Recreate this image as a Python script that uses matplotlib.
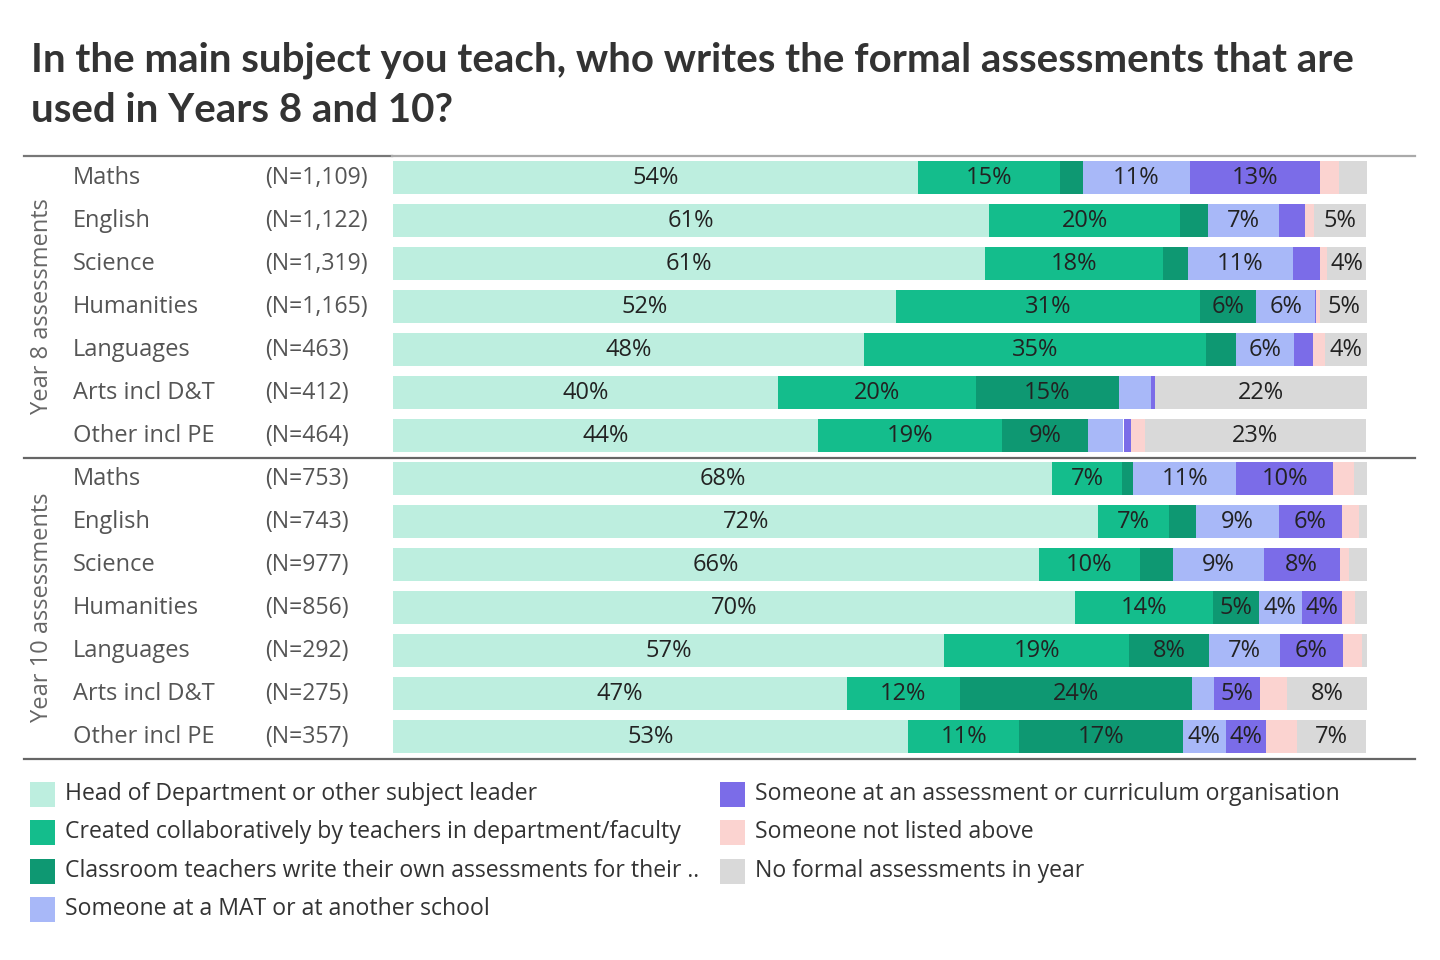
import matplotlib.pyplot as plt
from matplotlib import transforms
from matplotlib.patches import Rectangle
from matplotlib.lines import Line2D

subjects = ["Maths", "English", "Science", "Humanities", "Languages", "Arts incl D&T", "Other incl PE"]
n_y8 = ["(N=1,109)", "(N=1,122)", "(N=1,319)", "(N=1,165)", "(N=463)", "(N=412)", "(N=464)"]
n_y10 = ["(N=753)", "(N=743)", "(N=977)", "(N=856)", "(N=292)", "(N=275)", "(N=357)"]

categories = [
    "Head of Department or other subject leader",
    "Created collaboratively by teachers in department/faculty",
    "Classroom teachers write their own assessments for their ..",
    "Someone at a MAT or at another school",
    "Someone at an assessment or curriculum organisation",
    "Someone not listed above",
    "No formal assessments in year",
]
colors = ["#bdeedf", "#14bd8c", "#0e9872", "#a8b8f8", "#7b6ce8", "#fbd3d0", "#d9d9d9"]

# one list per category, Year 8 rows then Year 10 rows (same subject order)
head = [53.9, 61.2, 60.8, 51.6, 48.4, 39.5, 43.6,
        67.7, 72.4, 66.3, 70.0, 56.6, 46.6, 52.9]
collab = [14.6, 19.6, 18.3, 31.3, 35.1, 20.4, 18.9,
          7.1, 7.3, 10.4, 14.2, 19.0, 11.6, 11.4]
classroom = [2.3, 2.9, 2.5, 5.7, 3.1, 14.6, 8.9,
             1.2, 2.7, 3.4, 4.7, 8.2, 23.8, 16.8]
mat = [11.0, 7.3, 10.8, 6.1, 5.9, 3.3, 3.6,
       10.6, 8.6, 9.3, 4.4, 7.3, 2.3, 4.4]
org = [13.4, 2.6, 2.8, 0.1, 2.0, 0.4, 0.8,
       9.9, 6.4, 7.8, 4.1, 6.4, 4.7, 4.1]
not_listed = [1.9, 1.0, 0.7, 0.4, 1.2, 0.0, 1.4,
              2.2, 1.8, 1.0, 1.4, 2.0, 2.8, 3.2]
no_formal = [2.9, 5.3, 4.0, 4.9, 4.3, 21.8, 22.7,
             1.4, 0.8, 1.8, 1.2, 0.5, 8.2, 7.1]

series = [head, collab, classroom, mat, org, not_listed, no_formal]

W, H = 1440, 960
plt.rcParams['font.family'] = ['Open Sans', 'DejaVu Sans']
fig = plt.figure(figsize=(W / 100, H / 100), dpi=100)

def fx(px): return px / W
def fy(py): return 1 - py / H

# bar axes: pixel x 393..1367, y 156..758
ax = fig.add_axes([fx(393), fy(758), fx(1367) - fx(393), (758 - 156) / H])
nrows = len(head)
ax.set_xlim(0, 100)
ax.set_ylim(nrows - 0.5, -0.5)
ax.axis('off')

rows = list(range(nrows))
left = [0.0] * nrows
for vals, col in zip(series, colors):
    ax.barh(rows, vals, left=left, height=0.77, color=col, linewidth=0)
    for r, (v, l) in enumerate(zip(vals, left)):
        if v >= 3.95:
            ax.text(l + v / 2, r, f"{v:.0f}%", ha='center', va='center',
                    fontsize=17, color='#222222')
    left = [a + b for a, b in zip(left, vals)]

# row labels
tr = transforms.blended_transform_factory(fig.transFigure, ax.transData)
all_n = n_y8 + n_y10
for r in rows:
    ax.text(fx(73), r, subjects[r % 7], transform=tr, ha='left', va='center',
            fontsize=17, color='#555555', clip_on=False)
    ax.text(fx(265), r, all_n[r], transform=tr, ha='left', va='center',
            fontsize=16.6, color='#555555', clip_on=False)

ax.text(fx(42), 3, "Year 8 assessments", transform=tr, rotation=90,
        ha='center', va='center', fontsize=17, color='#666666')
ax.text(fx(42), 10, "Year 10 assessments", transform=tr, rotation=90,
        ha='center', va='center', fontsize=17, color='#666666')

# rules
def hline(x0, x1, y, c):
    fig.add_artist(Line2D([fx(x0), fx(x1)], [fy(y), fy(y)], color=c, lw=1.6))

hline(24, 392, 156, '#777777')
hline(392, 1415, 156, '#aaaaaa')
hline(24, 1415, 457.5, '#666666')
hline(24, 1415, 759, '#666666')

# title
fig.text(fx(31), fy(60), "In the main subject you teach, who writes the formal assessments that are",
         fontsize=29, fontweight='bold', family='Lato', color='#333333', va='center')
fig.text(fx(31), fy(111), "used in Years 8 and 10?",
         fontsize=29, fontweight='bold', family='Lato', color='#333333', va='center')

# legend
leg_pos = [(30, 794), (30, 832), (30, 871), (30, 909), (720, 794), (720, 832), (720, 871)]
for (lx, ly), lab, col in zip(leg_pos, categories, colors):
    fig.add_artist(Rectangle((fx(lx), fy(ly + 12.5)), 25 / W, 25 / H,
                             transform=fig.transFigure, color=col, lw=0))
    fig.text(fx(lx + 35), fy(ly), lab, fontsize=16.6, color='#333333', va='center')

fig.savefig('out.png', dpi=100)
